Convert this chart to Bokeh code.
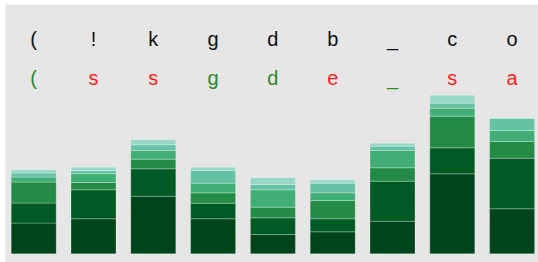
from bokeh.plotting import figure
from bokeh.models import ColumnDataSource, Range1d
from bokeh.core.properties import value
from bokeh.embed import file_html
from bokeh.resources import INLINE

# Data
positions = [0, 1, 2, 3, 4, 5, 6, 7, 8]
target_chars = ["(", "!", "k", "g", "d", "b", "_", "c", "o"]
predicted_chars = ["(", "s", "s", "g", "d", "e", "_", "s", "a"]
layer1 = [30.7, 35.0, 57.6, 35.0, 19.3, 22.0, 32.6, 80.0, 45.0]
layer2 = [20.0, 29.0, 27.4, 15.6, 16.7, 13.0, 40.0, 26.0, 50.6]
layer3 = [21.0, 7.3, 9.6, 10.4, 10.6, 18.3, 13.4, 31.6, 16.7]
layer4 = [5.0, 8.7, 8.7, 9.6, 17.4, 7.7, 17.3, 8.0, 11.0]
layer5 = [4.0, 3.3, 5.7, 12.7, 5.3, 9.6, 4.3, 5.0, 12.0]
layer6 = [3.3, 3.3, 5.0, 3.3, 6.7, 3.4, 3.0, 8.0, 0.8]

layers = ["layer1", "layer2", "layer3", "layer4", "layer5", "layer6"]
palette = ["#00441b", "#005a24", "#238b45", "#41ae76", "#66c2a4", "#99d8c9"]

match_color = "#2a8a2a"
miss_color = "#ff1a1a"
pred_colors = [match_color if a == b else miss_color
               for a, b in zip(target_chars, predicted_chars)]

source = ColumnDataSource(dict(
    x=positions,
    layer1=layer1, layer2=layer2, layer3=layer3,
    layer4=layer4, layer5=layer5, layer6=layer6,
))

W, H = 538, 262
LEFT, TOP = 5, 4
step = 59.8
x0 = 28.2
p = figure(width=W, height=H, output_backend="svg", toolbar_location=None,
           x_axis_location=None, y_axis_location=None,
           x_range=Range1d(-x0 / step, (W - LEFT - x0) / step),
           y_range=Range1d(-8.7, 249.3),
           min_border=0, min_border_left=LEFT, min_border_top=TOP)
p.background_fill_color = "#e6e6e6"
p.border_fill_color = "#ffffff"
p.outline_line_color = None
p.grid.visible = False

p.vbar_stack(layers, x="x", width=45 / step, source=source, color=palette,
             line_color="#ffffff", line_alpha=0.25, line_width=1)

top_src = ColumnDataSource(dict(x=positions, y=[214.8] * 9, t=target_chars))
bot_src = ColumnDataSource(dict(x=positions, y=[176.3] * 9, t=predicted_chars,
                                c=pred_colors))

p.text(x="x", y="y", text="t", source=top_src, text_align="center",
       text_baseline="alphabetic", text_font=value("Liberation Sans"),
       text_font_size="20px", text_color="#111111")
p.text(x="x", y="y", text="t", source=bot_src, text_align="center",
       text_baseline="alphabetic", text_font=value("Liberation Sans"),
       text_font_size="20px", text_color="c")

open("out.html", "w").write(file_html(p, INLINE))
